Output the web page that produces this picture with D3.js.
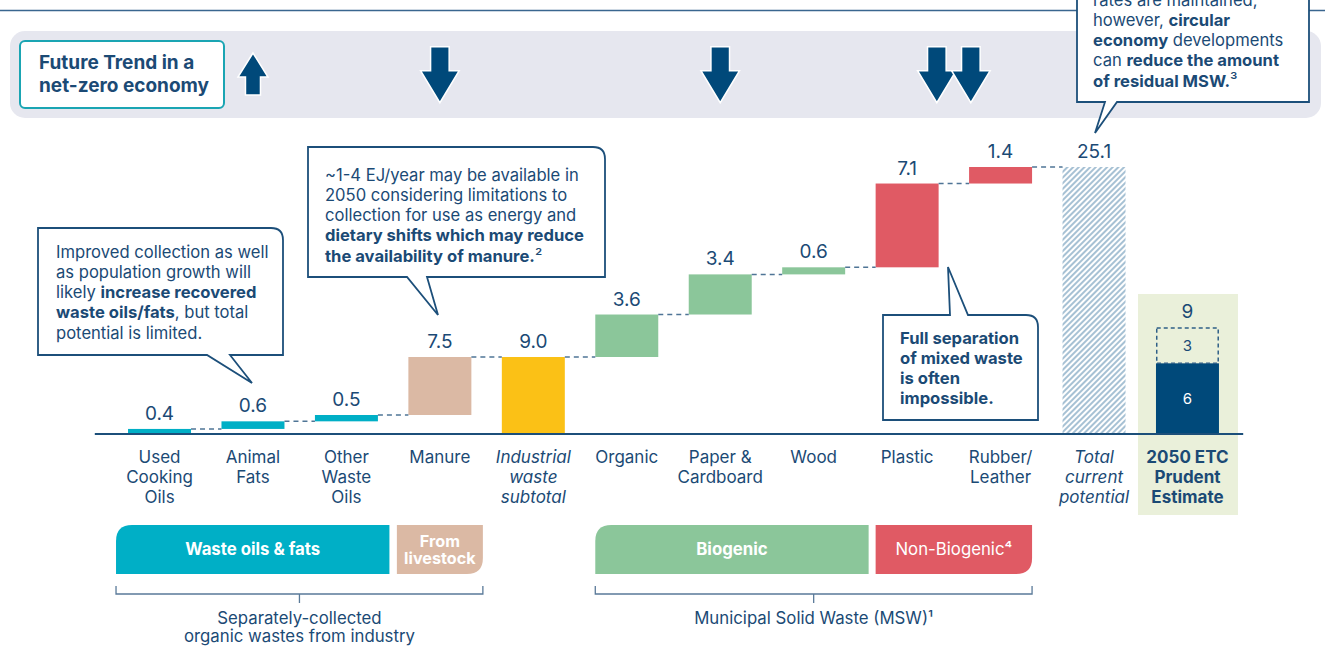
<!DOCTYPE html>
<html>
<head>
<meta charset="utf-8">
<script src="https://cdn.jsdelivr.net/npm/d3@7"></script>
<style>
  html, body { margin: 0; padding: 0; background: #ffffff; }
  svg { display: block; font-family: Inter, "Noto Sans", sans-serif; }
</style>
</head>
<body>
<svg id="chart" width="1325" height="661"></svg>
<script>
// ---- Data (EJ/year) ----
const categories = ["Used Cooking Oils", "Animal Fats", "Other Waste Oils", "Manure",
  "Industrial waste subtotal", "Organic", "Paper & Cardboard", "Wood", "Plastic",
  "Rubber/Leather", "Total current potential", "2050 ETC Prudent Estimate"];
const categoryLines = [["Used", "Cooking", "Oils"], ["Animal", "Fats"], ["Other", "Waste", "Oils"],
  ["Manure"], ["Industrial", "waste", "subtotal"], ["Organic"], ["Paper &", "Cardboard"], ["Wood"],
  ["Plastic"], ["Rubber/", "Leather"], ["Total", "current", "potential"], ["2050 ETC", "Prudent", "Estimate"]];
const values = [0.4, 0.6, 0.5, 7.5, 9.0, 3.6, 3.4, 0.6, 7.1, 1.4, 25.1];
const valueLabels = ["0.4", "0.6", "0.5", "7.5", "9.0", "3.6", "3.4", "0.6", "7.1", "1.4", "25.1"];
const barKinds = ["step", "step", "step", "step", "subtotal", "step", "step", "step", "step", "step", "total"];
const barGroups = ["oils", "oils", "oils", "livestock", "industrial", "biogenic", "biogenic", "biogenic",
  "nonbiogenic", "nonbiogenic", "total"];
const etcCore = 6;
const etcUpside = 3;
const etcTotal = 9;
// Net-zero trend per category: +1 up, -1 down, -2 double down
const trendCategories = ["Animal Fats", "Manure", "Paper & Cardboard", "Plastic|Rubber/Leather"];
const trendDirections = [1, -1, -1, -2];

const palette = {
  oils: "#00afc6", livestock: "#dbb9a4", industrial: "#fbc116", biogenic: "#8bc69a",
  nonbiogenic: "#e05a64", etc: "#00497a", etcPanel: "#eaf0da", text: "#1b4a75",
  line: "#1c4f7a", hatch: "#9dbad0", band: "#e6e7ef", teal: "#1aa5b3"
};
const noteSize = 16.6;

const svg = d3.select("#chart");
const baseY = 434;

// Band scale for the columns
const x = d3.scaleBand().domain(categories)
  .range([112.8, 1234.2]).paddingInner(0.326).paddingOuter(0.163);
const bw = x.bandwidth();
const cx = c => x(c) + bw / 2;

// Piecewise value scale: the small oil segments and MSW segments are stretched for legibility
const y = d3.scaleLinear().domain([0, 1.5, 9, 25.1]).range([baseY, 415, 357, 167]);
const yEtc = d3.scaleLinear().domain([0, etcTotal]).range([baseY, 328]);

// ---- Top "future trend" band ----
svg.append("line").attr("x1", 0).attr("x2", 1325).attr("y1", 10.5).attr("y2", 10.5)
  .attr("stroke", "#3a668f").attr("stroke-width", 1.5);
svg.append("rect").attr("x", 10).attr("y", 31).attr("width", 1311).attr("height", 87)
  .attr("rx", 15).attr("fill", palette.band);
svg.append("rect").attr("x", 20).attr("y", 41).attr("width", 204).attr("height", 67)
  .attr("rx", 5).attr("fill", "#fff").attr("stroke", palette.teal).attr("stroke-width", 2);
svg.append("text").attr("x", 39).attr("y", 68.5).attr("fill", palette.text)
  .attr("font-size", 19).attr("font-weight", 700).text("Future Trend in a");
svg.append("text").attr("x", 39).attr("y", 91.5).attr("fill", palette.text)
  .attr("font-size", 19).attr("font-weight", 700).text("net-zero economy");

function arrowPath(cxp, dir) {
  if (dir > 0) {
    const hw = 15, sw = 7.5, tip = 53, hb = 77, bot = 95;
    return `M${cxp},${tip} L${cxp + hw},${hb} L${cxp + sw},${hb} L${cxp + sw},${bot} L${cxp - sw},${bot} L${cxp - sw},${hb} L${cxp - hw},${hb} Z`;
  }
  const hw = 19.3, sw = 9.3, top = 46.7, hb = 70.7, tip = 102.7;
  return `M${cxp - sw},${top} L${cxp + sw},${top} L${cxp + sw},${hb} L${cxp + hw},${hb} L${cxp},${tip} L${cxp - hw},${hb} L${cxp - sw},${hb} Z`;
}
trendCategories.forEach((t, i) => {
  const dir = trendDirections[i];
  const cats = t.split("|");
  const mid = d3.mean(cats, cx);
  const centers = dir === -2 ? [mid - 17, mid + 17] : [mid];
  centers.forEach(c => svg.append("path").attr("d", arrowPath(c, dir))
    .attr("fill", palette.etc).attr("stroke", "#fff").attr("stroke-width", 1.5));
});

// ---- Hatch pattern for the total column ----
const defs = svg.append("defs");
const pat = defs.append("pattern").attr("id", "hatch").attr("patternUnits", "userSpaceOnUse")
  .attr("width", 4).attr("height", 4).attr("patternTransform", "rotate(45)");
pat.append("rect").attr("width", 4).attr("height", 4).attr("fill", "#fff");
pat.append("line").attr("x1", 1).attr("y1", 0).attr("x2", 1).attr("y2", 4)
  .attr("stroke", palette.hatch).attr("stroke-width", 1.8);

// ---- 2050 ETC panel ----
const etcCat = categories[11];
svg.append("rect").attr("x", x(etcCat) - 18).attr("y", 294).attr("width", bw + 37).attr("height", 221)
  .attr("fill", palette.etcPanel);

// ---- Waterfall bars ----
let running = 0;
const bars = values.map((v, i) => {
  let lo, hi;
  if (barKinds[i] === "step") { lo = running; hi = running + v; running = hi; }
  else { lo = 0; hi = v; }
  return { cat: categories[i], lo, hi, kind: barKinds[i], group: barGroups[i], label: valueLabels[i] };
});

svg.append("g").selectAll("rect").data(bars).join("rect")
  .attr("x", d => x(d.cat)).attr("width", bw)
  .attr("y", d => y(d.hi)).attr("height", d => y(d.lo) - y(d.hi))
  .attr("fill", d => d.kind === "total" ? "url(#hatch)" : palette[d.group]);

// Dashed connectors between consecutive columns
const conn = bars.slice(0, -1).map((d, i) => ({ a: d, b: bars[i + 1] }));
svg.append("g").selectAll("line").data(conn).join("line")
  .attr("x1", d => x(d.a.cat) + bw).attr("x2", d => x(d.b.cat))
  .attr("y1", d => y(d.a.hi)).attr("y2", d => y(d.a.hi))
  .attr("stroke", "#4f7596").attr("stroke-width", 1.5).attr("stroke-dasharray", "5,4");

// Value labels
svg.append("g").selectAll("text").data(bars).join("text")
  .attr("x", d => cx(d.cat)).attr("y", d => y(d.hi) - 9)
  .attr("text-anchor", "middle").attr("font-size", 19).attr("fill", palette.text)
  .text(d => d.label);

// ETC stacked estimate
svg.append("rect").attr("x", x(etcCat)).attr("width", bw)
  .attr("y", yEtc(etcCore)).attr("height", yEtc(0) - yEtc(etcCore)).attr("fill", palette.etc);
svg.append("rect").attr("x", x(etcCat) + 0.75).attr("width", bw - 1.5)
  .attr("y", yEtc(etcCore + etcUpside)).attr("height", yEtc(etcCore) - yEtc(etcCore + etcUpside))
  .attr("fill", "none").attr("stroke", "#2f5f87").attr("stroke-width", 1.5).attr("stroke-dasharray", "4,3");
svg.append("text").attr("x", cx(etcCat)).attr("y", yEtc(etcTotal) - 10).attr("text-anchor", "middle")
  .attr("font-size", 19).attr("fill", palette.text).text(etcTotal);
svg.append("text").attr("x", cx(etcCat)).attr("y", (yEtc(etcCore) + yEtc(etcTotal)) / 2 + 5)
  .attr("text-anchor", "middle").attr("font-size", 15).attr("fill", palette.text).text(etcUpside);
svg.append("text").attr("x", cx(etcCat)).attr("y", (yEtc(0) + yEtc(etcCore)) / 2 + 5)
  .attr("text-anchor", "middle").attr("font-size", 15).attr("fill", "#fff").text(etcCore);

// Baseline
svg.append("line").attr("x1", x.range()[0] - 18).attr("x2", x.range()[1] + 9)
  .attr("y1", baseY).attr("y2", baseY).attr("stroke", palette.line).attr("stroke-width", 2.2);

// Category labels
const labG = svg.append("g");
categories.forEach((c, i) => {
  const t = labG.append("text").attr("x", cx(c)).attr("text-anchor", "middle")
    .attr("font-size", 17).attr("fill", palette.text);
  if (c === "Industrial waste subtotal" || c === "Total current potential") t.attr("font-style", "italic");
  if (i === 11) t.attr("font-weight", 700);
  categoryLines[i].forEach((ln, k) => t.append("tspan").attr("x", cx(c)).attr("y", 463 + k * 20).text(ln));
});

// ---- Grouping bars beneath the axis ----
function cornerRect(x0, y0, x1, y1, corner, r) {
  if (corner === "tl")
    return `M${x0},${y1} V${y0 + r} Q${x0},${y0} ${x0 + r},${y0} H${x1} V${y1} Z`;
  return `M${x0},${y0} H${x1} V${y1 - r} Q${x1},${y1} ${x1 - r},${y1} H${x0} Z`;
}
const gy0 = 525, gy1 = 574;
const groupsBelow = [
  { x0: cx(categories[0]) - 43.5, x1: cx(categories[2]) + 43, corner: "tl", fill: palette.oils, lines: ["Waste oils & fats"], bold: true },
  { x0: cx(categories[3]) - 43, x1: cx(categories[3]) + 43, corner: "br", fill: palette.livestock, lines: ["From", "livestock"], bold: true },
  { x0: x(categories[5]), x1: x(categories[8]) - 7, corner: "tl", fill: palette.biogenic, lines: ["Biogenic"], bold: true },
  { x0: x(categories[8]), x1: x(categories[9]) + bw, corner: "br", fill: palette.nonbiogenic, lines: ["Non-Biogenic⁴"], bold: false }
];
groupsBelow.forEach(g => {
  svg.append("path").attr("d", cornerRect(g.x0, gy0, g.x1, gy1, g.corner, 16)).attr("fill", g.fill);
  const mx = (g.x0 + g.x1) / 2;
  const two = g.lines.length > 1;
  const t = svg.append("text").attr("text-anchor", "middle").attr("font-size", two ? 16.2 : 16.8)
    .attr("fill", "#fff").attr("font-weight", g.bold ? 700 : 400);
  const start = two ? 546.5 : 555;
  g.lines.forEach((ln, k) => t.append("tspan").attr("x", mx).attr("y", start + k * 17).text(ln));
});

// Brackets
function bracket(x0, x1, lines) {
  const by = 594, mx = (x0 + x1) / 2;
  svg.append("path").attr("d", `M${x0},586 V${by} H${x1} V586 M${mx},${by} V603`)
    .attr("fill", "none").attr("stroke", "#5a7a99").attr("stroke-width", 1.3);
  const t = svg.append("text").attr("text-anchor", "middle").attr("font-size", 16.8).attr("fill", palette.text);
  lines.forEach((ln, k) => t.append("tspan").attr("x", mx).attr("y", 624 + k * 17.5).text(ln));
}
bracket(groupsBelow[0].x0, groupsBelow[1].x1, ["Separately-collected", "organic wastes from industry"]);
bracket(groupsBelow[2].x0, groupsBelow[3].x1, ["Municipal Solid Waste (MSW)¹"]);

// ---- Callouts ----
function calloutPath(b) {
  const r = 12;
  if (b.tailSide === "top")
    return `M${b.x0},${b.y0} H${b.t0} L${b.tip[0]},${b.tip[1]} L${b.t1},${b.y0} H${b.x1 - r} Q${b.x1},${b.y0} ${b.x1},${b.y0 + r} V${b.y1} H${b.x0} Z`;
  const rr = b.round === false ? 0 : r;
  return `M${b.x0},${b.y0} H${b.x1 - rr} Q${b.x1},${b.y0} ${b.x1},${b.y0 + rr} V${b.y1} H${b.t1} L${b.tip[0]},${b.tip[1]} L${b.t0},${b.y1} H${b.x0} Z`;
}
function callout(b) {
  svg.append("path").attr("d", calloutPath(b)).attr("fill", "#fff")
    .attr("stroke", palette.line).attr("stroke-width", 1.8).attr("stroke-linejoin", "miter");
  b.lines.forEach((segs, k) => {
    const t = svg.append("text").attr("x", b.tx).attr("y", b.ty + k * 20.3)
      .attr("font-size", noteSize).attr("fill", palette.text);
    segs.forEach(s => t.append("tspan").attr("font-weight", s[1] ? 700 : 400).text(s[0]));
  });
}
callout({
  x0: 38, y0: 228, x1: 283, y1: 355, t0: 207, t1: 230, tip: [252, 383], tx: 56, ty: 257.5,
  lines: [
    [["Improved collection as well", 0]],
    [["as population growth will", 0]],
    [["likely ", 0], ["increase recovered", 1]],
    [["waste oils/fats", 1], [", but total", 0]],
    [["potential is limited.", 0]]
  ]
});
callout({
  x0: 308, y0: 147, x1: 605, y1: 277, t0: 407, t1: 427, tip: [438, 315], tx: 325, ty: 180.5,
  lines: [
    [["~1-4 EJ/year may be available in", 0]],
    [["2050 considering limitations to", 0]],
    [["collection for use as energy and", 0]],
    [["dietary shifts which may reduce", 1]],
    [["the availability of manure.", 1], ["²", 0]]
  ]
});
callout({
  tailSide: "top", x0: 883, y0: 315, x1: 1038, y1: 420, t0: 950, t1: 968, tip: [948, 267], tx: 900, ty: 343.5,
  lines: [
    [["Full separation", 1]],
    [["of mixed waste", 1]],
    [["is often", 1]],
    [["impossible.", 1]]
  ]
});
callout({
  round: false, x0: 1077, y0: -12, x1: 1309, y1: 102, t0: 1105, t1: 1117, tip: [1095, 133], tx: 1093, ty: 5.5,
  lines: [
    [["rates are maintained,", 0]],
    [["however, ", 0], ["circular", 1]],
    [["economy", 1], [" developments", 0]],
    [["can ", 0], ["reduce the amount", 1]],
    [["of residual MSW.", 1], ["³", 0]]
  ]
});
</script>
</body>
</html>
